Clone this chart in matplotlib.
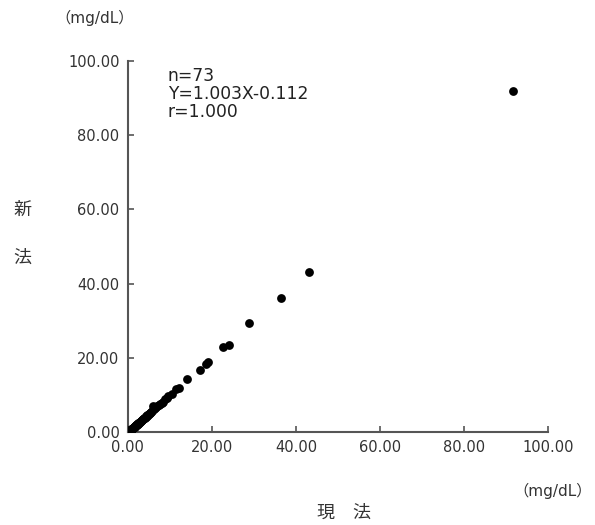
import numpy as np
import matplotlib
matplotlib.use("Agg")
import matplotlib.pyplot as plt

plt.rcParams['font.family'] = ['DejaVu Sans', 'Noto Sans CJK JP']

# current method (x) vs new method (y), mg/dL
x_current = [0.2, 0.3, 0.4, 0.5, 0.6, 0.7, 0.8, 0.9, 1.0, 1.1,
             1.2, 1.3, 1.5, 1.6, 1.8, 1.9, 2.0, 2.2, 2.3, 2.5,
             2.6, 2.8, 3.0, 3.1, 3.3, 3.5, 3.6, 3.8, 4.0, 4.2,
             4.4, 4.6, 4.8, 5.0, 5.3, 5.5, 5.8, 6.2, 6.5, 6.8,
             7.0, 7.3, 7.6, 8.0, 8.3, 0.1, 0.6, 1.4, 2.1, 2.9,
             3.4, 4.5, 5.2, 6.0, 8.8, 9.2, 9.6, 10.4, 11.5, 12.2,
             14.1, 17.2, 18.6, 19.0, 22.6, 24.1, 28.8, 36.4, 43.1, 91.7,
             0.4, 1.7, 2.4]
y_new = [0.1, 0.2, 0.3, 0.4, 0.5, 0.6, 0.7, 0.8, 0.9, 1.0,
         1.1, 1.2, 1.4, 1.5, 1.7, 1.8, 1.9, 2.1, 2.2, 2.4,
         2.5, 2.7, 2.9, 3.0, 3.2, 3.4, 3.5, 3.7, 3.9, 4.1,
         4.3, 4.5, 4.7, 4.9, 5.2, 5.4, 5.7, 6.1, 6.4, 6.7,
         6.9, 7.2, 7.5, 7.9, 8.2, 0.0, 0.5, 1.3, 2.0, 2.8,
         3.3, 4.4, 5.1, 7.1, 8.9, 9.2, 9.7, 10.3, 11.6, 12.0,
         14.2, 16.8, 18.4, 19.0, 22.8, 23.5, 29.4, 36.0, 43.2, 92.0,
         0.3, 1.6, 2.3]

ticks = [0, 20, 40, 60, 80, 100]
tick_labels = ['0.00', '20.00', '40.00', '60.00', '80.00', '100.00']

fig = plt.figure(figsize=(5.95, 5.25), dpi=100)
ax = fig.add_axes([0.215, 0.177, 0.706, 0.707])

ax.scatter(x_current, y_new, s=40, color='black', linewidths=0, zorder=3)

ax.set_xlim(0, 100)
ax.set_ylim(0, 100)
ax.set_xticks(ticks)
ax.set_yticks(ticks)
ax.set_xticklabels(tick_labels)
ax.set_yticklabels(tick_labels)
ax.tick_params(direction='in', length=4, width=1.2, color='#555555',
               labelsize=10.5, labelcolor='#333333', pad=6)
for side in ['top', 'right']:
    ax.spines[side].set_visible(False)
for side in ['left', 'bottom']:
    ax.spines[side].set_color('#555555')
    ax.spines[side].set_linewidth(1.5)

ax.text(0.095, 0.983, 'n=73\nY=1.003X-0.112\nr=1.000', transform=ax.transAxes,
        fontsize=12.3, va='top', ha='left', color='#222222', linespacing=1.0)

fig.text(95 / 595, 1 - 18 / 525, '（mg/dL）', fontsize=11, ha='center', va='center', color='#333333')
fig.text(592 / 595, 1 - 491 / 525, '（mg/dL）', fontsize=11, ha='right', va='center', color='#333333')
fig.text(344 / 595, 1 - 513 / 525, '現　法', fontsize=13, ha='center', va='center', color='#333333')
fig.text(22 / 595, 1 - 210 / 525, '新', fontsize=13, ha='center', va='center', color='#333333')
fig.text(22 / 595, 1 - 258 / 525, '法', fontsize=13, ha='center', va='center', color='#333333')

fig.savefig('out.png', dpi=100)
